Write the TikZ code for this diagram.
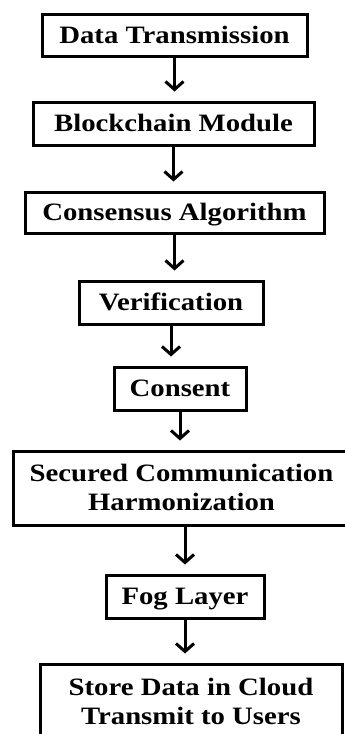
\documentclass[tikz,border=0pt]{standalone}
\usepackage{fontspec}
\setmainfont{Liberation Serif}[FakeStretch=1.15]
\usetikzlibrary{arrows.meta}
\tikzset{
  flowbox/.style={draw=black, line width=3pt, fill=white, inner sep=0pt,
    font=\fontsize{25}{29}\selectfont\bfseries, align=center,
    text height=16.5pt, text depth=0pt},
  twoline/.style={text height=45.5pt},
  flowarrow/.style={line width=3pt, -{Straight Barb[length=8pt,width=18pt,line width=3pt]},
    shorten >=9pt}
}
\begin{document}
\begin{tikzpicture}[x=1pt,y=-1pt]
\useasboundingbox (0,0) rectangle (345,734);
\clip (0,0) rectangle (345,734);
\fill[white] (0,0) rectangle (345,734);

\node[flowbox, minimum width=265, minimum height=42] (b1) at (174.5,35) {Data Transmission};
\node[flowbox, minimum width=281, minimum height=43] (b2) at (173.5,123.5) {Blockchain Module};
\node[flowbox, minimum width=299, minimum height=41] (b3) at (174.5,212.5) {Consensus Algorithm};
\node[flowbox, minimum width=184, minimum height=43] (b4) at (171,302.5) {Verification};
\node[flowbox, minimum width=132, minimum height=43] (b5) at (180,388.5) {Consent};
\node[flowbox, twoline, minimum width=337, minimum height=74] (b6) at (181.5,488) {Secured Communication\\Harmonization};
\node[flowbox, minimum width=158, minimum height=43] (b7) at (185,596.5) {Fog Layer};
\node[flowbox, twoline, minimum width=302, minimum height=76] (b8) at (191,702) {Store Data in Cloud\\Transmit to Users};

\foreach \a/\b in {b1/b2,b2/b3,b3/b4,b4/b5,b5/b6,b7/b8}
  \draw[flowarrow] (\a.south) -- (\a.south |- \b.north);
\draw[flowarrow] (b6.south -| b7.north) -- (b7.north);
\end{tikzpicture}
\end{document}
